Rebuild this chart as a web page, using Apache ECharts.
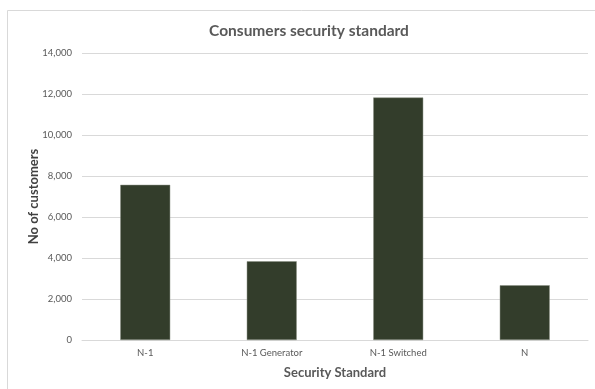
<!DOCTYPE html>
<html>
<head>
<meta charset="utf-8">
<script src="https://cdn.jsdelivr.net/npm/echarts@6/dist/echarts.min.js"></script>
<style>html,body{margin:0;padding:0;background:#fff}#c{width:595px;height:389px}</style>
</head>
<body>
<div id="c"></div>
<script>
const categories = ['N-1', 'N-1 Generator', 'N-1 Switched', 'N'];
const customers = [7570, 3840, 11830, 2670];
const yTicks = { min: 0, max: 14000, interval: 2000 };
const titleText = 'Consumers security standard';
const xName = 'Security Standard';
const yName = 'No of customers';

const chart = echarts.init(document.getElementById('c'), null, { renderer: 'canvas' });
const font = 'Lato, "Open Sans", sans-serif';
chart.setOption({
  animation: false,
  backgroundColor: '#fff',
  graphic: [{
    type: 'rect', shape: { x: 7.5, y: 10.5, width: 600, height: 400 },
    style: { fill: 'none', stroke: '#d9d9d9', lineWidth: 1 }, silent: true, z: -1
  }],
  title: {
    text: titleText, left: 304, top: 18, textAlign: 'center',
    textStyle: { fontFamily: font, fontSize: 15.5, fontWeight: 'bold', color: '#595959' }
  },
  grid: { left: 82, right: 7, top: 53, bottom: 49 },
  xAxis: {
    type: 'category', data: categories,
    axisLine: { lineStyle: { color: '#d9d9d9' } },
    axisTick: { show: false },
    axisLabel: { color: '#595959', fontSize: 9.5, fontFamily: font, margin: 8 },
    name: xName, nameLocation: 'middle', nameGap: 26, nameMoveOverlap: false,
    nameTextStyle: { fontFamily: font, fontSize: 13, fontWeight: 'bold', color: '#595959' }
  },
  yAxis: {
    type: 'value', min: yTicks.min, max: yTicks.max, interval: yTicks.interval,
    axisLine: { show: false }, axisTick: { show: false },
    splitLine: { lineStyle: { color: '#d9d9d9' } },
    axisLabel: {
      color: '#595959', fontSize: 9.5, fontFamily: font, margin: 10,
      formatter: v => v.toLocaleString('en-US')
    },
    name: yName, nameLocation: 'middle', nameGap: 42, nameMoveOverlap: false,
    nameTextStyle: { fontFamily: font, fontSize: 13, fontWeight: 'bold', color: '#404040' }
  },
  series: [{
    type: 'bar', data: customers, barWidth: '39.5%',
    itemStyle: { color: '#333d2b', borderColor: '#8a9084', borderWidth: 0.5 }
  }]
});
</script>
</body>
</html>
